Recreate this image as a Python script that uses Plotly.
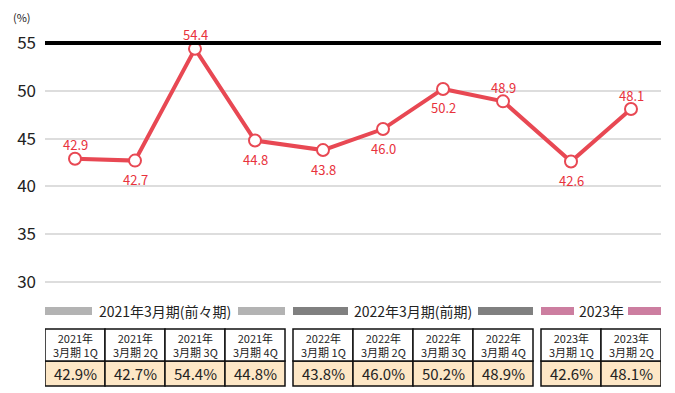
import plotly.graph_objects as go

# ---- data ----
quarters = ["2021年<br>3月期 1Q", "2021年<br>3月期 2Q", "2021年<br>3月期 3Q", "2021年<br>3月期 4Q",
            "2022年<br>3月期 1Q", "2022年<br>3月期 2Q", "2022年<br>3月期 3Q", "2022年<br>3月期 4Q",
            "2023年<br>3月期 1Q", "2023年<br>3月期 2Q"]
values = [42.9, 42.7, 54.4, 44.8, 43.8, 46.0, 50.2, 48.9, 42.6, 48.1]
label_pos = ["above", "below", "above", "below", "below", "below", "below", "above", "below", "above"]
group_of = [0, 0, 0, 0, 1, 1, 1, 1, 2, 2]
group_names = ["2021年3月期(前々期)", "2022年3月期(前期)", "2023年"]
group_colors = ["#b3b3b3", "#808080", "#cc7ea0"]
target_line = 55
y_ticks = [30, 35, 40, 45, 50, 55]

# ---- layout helpers (column units: each cell 1 unit, gap between groups) ----
GAP = 8 / 60
x_pos = [i + 0.5 + group_of[i] * GAP for i in range(len(values))]
x_end = len(values) + 2 * GAP

W, H = 675, 393
L, R, T, B = 45, W - 661, 24, 92
ph = H - T - B

def py(pix):
    return (H - B - pix) / ph

RED_LINE = "#e84853"
RED_TEXT = "#e8323c"
FONT = "Noto Sans CJK JP"

fig = go.Figure()
fig.add_trace(go.Scatter(
    x=x_pos, y=values, mode="lines+markers",
    line=dict(color=RED_LINE, width=4),
    marker=dict(size=12, color="white", line=dict(color=RED_LINE, width=2)),
    hoverinfo="skip", showlegend=False, cliponaxis=False,
))

shapes = []
annotations = []

def ann(**kw):
    d = dict(showarrow=False, xanchor="center", yanchor="middle")
    d.update(kw)
    annotations.append(d)

# target line
shapes.append(dict(type="line", xref="x", yref="y", x0=0, x1=x_end, y0=target_line, y1=target_line,
                   line=dict(color="black", width=4), layer="above"))

# point labels
for x, v, p in zip(x_pos, values, label_pos):
    ann(x=x, y=v, xref="x", yref="y", text=f"{v:.1f}",
        yshift=14 if p == "above" else -19,
        font=dict(family=FONT, size=13, color=RED_TEXT))

# group headers and table
hdr_y0, hdr_y1 = py(315), py(307)
hdr_mid = py(311)
row_top, row_mid, row_bot = py(329), py(361), py(386)
for g, (name, col) in enumerate(zip(group_names, group_colors)):
    idx = [i for i in range(len(values)) if group_of[i] == g]
    gx0 = x_pos[idx[0]] - 0.5
    gx1 = x_pos[idx[-1]] + 0.5
    gc = (gx0 + gx1) / 2
    # estimated text half width in column units
    tw = {0: 68, 1: 60, 2: 22}[g] / 60
    shapes.append(dict(type="rect", xref="x", yref="paper", x0=gx0, x1=gc - tw - 5 / 60,
                       y0=hdr_y0, y1=hdr_y1, fillcolor=col, line=dict(width=0)))
    shapes.append(dict(type="rect", xref="x", yref="paper", x0=gc + tw + 5 / 60, x1=gx1,
                       y0=hdr_y0, y1=hdr_y1, fillcolor=col, line=dict(width=0)))
    ann(x=gc, y=hdr_mid, xref="x", yref="paper", text=name,
        font=dict(family=FONT, size=14, color="#222"))
    for i in idx:
        cx0, cx1 = x_pos[i] - 0.5, x_pos[i] + 0.5
        shapes.append(dict(type="rect", xref="x", yref="paper", x0=cx0, x1=cx1, y0=row_mid, y1=row_bot,
                           fillcolor="#fde7c6", line=dict(color="#111", width=1.5)))
        shapes.append(dict(type="rect", xref="x", yref="paper", x0=cx0, x1=cx1, y0=row_top, y1=row_mid,
                           fillcolor="white", line=dict(color="#111", width=1.5)))
        ann(x=x_pos[i], y=(row_top + row_mid) / 2, xref="x", yref="paper",
            text=quarters[i], font=dict(family=FONT, size=11, color="#222"))
        ann(x=x_pos[i], y=(row_mid + row_bot) / 2, xref="x", yref="paper",
            text=f"{values[i]:.1f}%", font=dict(family=FONT, size=15, color="#222"))

ann(x=(22 - L) / (W - L - R), y=py(17), xref="paper", yref="paper", text="(%)",
    font=dict(family=FONT, size=11, color="#222"))

fig.update_layout(
    width=W, height=H, margin=dict(l=L, r=R, t=T, b=B),
    paper_bgcolor="white", plot_bgcolor="white",
    xaxis=dict(range=[0, x_end], showgrid=False, zeroline=False, showticklabels=False, fixedrange=True),
    yaxis=dict(range=[28, 57], tickvals=y_ticks, showgrid=True, gridcolor="#dddddd", gridwidth=1.5,
               zeroline=False, ticks="", ticklabelstandoff=8, fixedrange=True,
               tickfont=dict(family=FONT, size=17, color="#222")),
    shapes=shapes, annotations=annotations, showlegend=False,
)
fig.write_html("out.html", config={"displayModeBar": False},
               post_script="document.body.style.margin='0';")
